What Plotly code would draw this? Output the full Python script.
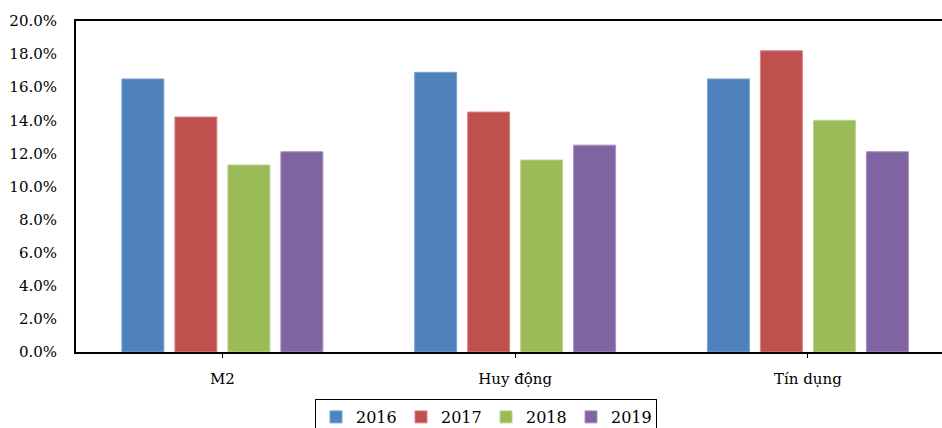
import plotly.graph_objects as go

# Growth rates (%) by indicator and year
categories = ["M2", "Huy động", "Tín dụng"]
years = ["2016", "2017", "2018", "2019"]
growth_2016 = [16.5, 16.9, 16.5]
growth_2017 = [14.2, 14.5, 18.2]
growth_2018 = [11.3, 11.6, 14.0]
growth_2019 = [12.1, 12.5, 12.1]
y_ticks = [0, 2, 4, 6, 8, 10, 12, 14, 16, 18, 20]

series = [growth_2016, growth_2017, growth_2018, growth_2019]
colors = ["#4F81BD", "#C0504D", "#9BBB59", "#8064A2"]
edge_colors = ["#7EA3D3", "#D98583", "#BCD48E", "#A690C2"]

FONT = "DejaVu Serif"

fig = go.Figure()
for name, vals, col, edge in zip(years, series, colors, edge_colors):
    fig.add_trace(go.Bar(
        x=categories, y=vals, name=name,
        marker=dict(color=col, line=dict(color=edge, width=1)),
    ))

fig.update_layout(
    width=942, height=428,
    margin=dict(l=76, r=0, t=21, b=76, autoexpand=False),
    paper_bgcolor="white", plot_bgcolor="white",
    barmode="group", bargap=0.276, bargroupgap=0.2075,
    font=dict(family=FONT, size=15, color="black"),
    showlegend=True,
    legend=dict(
        orientation="h", x=486 / 942, xanchor="center", xref="container",
        y=(428 - 399) / 428, yanchor="top", yref="container",
        bordercolor="black", borderwidth=1,
        font=dict(family=FONT, size=16, color="black"),
        itemwidth=30, entrywidth=40, tracegroupgap=0,
    ),
)

fig.update_xaxes(
    range=[-0.5, 2.458],
    showline=True, linecolor="black", linewidth=2, mirror=True,
    ticks="outside", ticklen=4, tickcolor="black", tickwidth=1,
    ticklabelstandoff=8,
    showgrid=False,
    tickfont=dict(family=FONT, size=15, color="black"),
)
fig.update_yaxes(
    range=[0, 20], tickvals=y_ticks,
    ticktext=[f"{v:.1f}%" for v in y_ticks],
    showline=True, linecolor="black", linewidth=2,
    ticks="outside", ticklen=14, tickcolor="rgba(0,0,0,0)",
    showgrid=False, zeroline=False,
    tickfont=dict(family=FONT, size=15, color="black"),
)

fig.write_html("out.html")
